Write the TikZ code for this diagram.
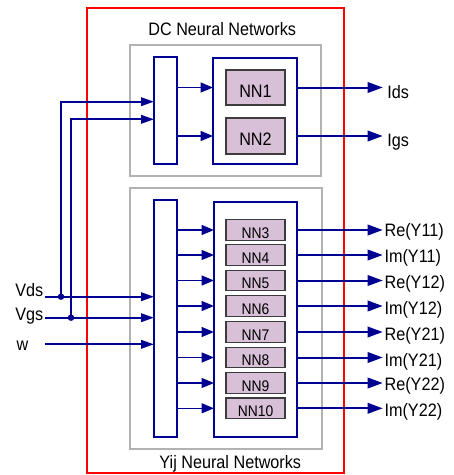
\documentclass[tikz,border=0pt]{standalone}
\usepackage{fontspec}
\setmainfont[FakeStretch=0.9]{Liberation Sans}
\usetikzlibrary{arrows.meta,calc}
\definecolor{nnblue}{RGB}{0,0,145}
\definecolor{boxgray}{RGB}{178,178,178}
\definecolor{nnfill}{RGB}{216,192,216}
\definecolor{nnedge}{RGB}{60,60,60}
\newcommand{\bigtxt}{\fontsize{18}{20}\selectfont}
\newcommand{\smalltxt}{\fontsize{15.4}{17}\selectfont}
\begin{document}
\begin{tikzpicture}[x=1pt,y=-1pt,
  boxbase/.style={draw, rectangle, inner sep=0pt, outer sep=0pt},
  redbox/.style={boxbase, draw=red, line width=1.3pt},
  graybox/.style={boxbase, draw=boxgray, line width=2.6pt, fill=white},
  bluebox/.style={boxbase, draw=nnblue, line width=2.8pt, fill=white},
  nnbox/.style={boxbase, draw=nnedge, line width=1.2pt, fill=nnfill, minimum width=59pt},
  bignn/.style={nnbox, font=\bigtxt, text height=19.9pt, text depth=0pt},
  smallnn/.style={nnbox, font=\smalltxt, text height=16pt, text depth=0pt, minimum height=20.5pt},
  lbl/.style={inner sep=0pt, outer sep=0pt, font=\bigtxt},
  dot/.style={circle, fill=nnblue, inner sep=0pt, minimum size=6.5pt},
  outarr/.style={draw=nnblue, line width=2pt, -{Triangle[length=15pt,width=10.5pt]}},
  inarr/.style={draw=nnblue, line width=2pt, -{Triangle[length=13pt,width=8.5pt]}},
  midarr/.style={draw=nnblue, line width=1.5pt, -{Triangle[length=12.5pt,width=10pt]}}
]
\useasboundingbox (0,0) rectangle (454,475);

% frames
\node[redbox, minimum width=257pt, minimum height=465pt] (outer) at (215.5,240.5) {};
\node[graybox, minimum width=191pt, minimum height=131pt] (dcgray) at (225.5,110.5) {};
\node[graybox, minimum width=192pt, minimum height=261pt] (yijgray) at (226,318.5) {};

% titles
\node[lbl, anchor=base] (dctitle) at (222.2,35.7) {DC Neural Networks};
\node[lbl, anchor=base] (yijtitle) at (230.3,468.3) {Yij Neural Networks};

% DC block
\node[bluebox, minimum width=23pt, minimum height=107pt] (dcbar) at (165.5,110.5) {};
\node[bluebox, minimum width=84pt, minimum height=106pt] (dccont) at (255,111) {};
\node[bignn, minimum height=35pt] (nn1) at (255.5,87.5) {NN1};
\node[bignn, minimum height=36pt] (nn2) at (255.5,136) {NN2};

% Yij block
\node[bluebox, minimum width=23pt, minimum height=237pt] (yijbar) at (165.5,318.5) {};
\node[bluebox, minimum width=83pt, minimum height=235pt] (yijcont) at (255.5,319.5) {};

% DC outputs
\node[lbl, anchor=base west] (ids) at (387.3,98.2) {Ids};
\node[lbl, anchor=base west] (igs) at (387.3,146.4) {Igs};
\draw[midarr] (dcbar.east |- nn1) -- (dccont.west |- nn1);
\draw[midarr] (dcbar.east |- nn2) -- (dccont.west |- nn2);
\draw[outarr, shorten >=4.6pt] (nn1 -| dccont.east) -- (nn1 -| ids.west);
\draw[outarr, shorten >=4.6pt] (nn2 -| dccont.east) -- (nn2 -| igs.west);

% Yij networks and outputs
\foreach \i/\yc/\t/\b in {3/230/Re(Y11)/236.5, 4/255/Im(Y11)/262.5, 5/280.5/Re(Y12)/288,
                          6/306/Im(Y12)/314, 7/332/Re(Y21)/340.5, 8/357.5/Im(Y21)/366.5,
                          9/383/Re(Y22)/390, 10/408.3/Im(Y22)/416.5}{
  \node[smallnn] (nn\i) at (255.5,\yc) {NN\i};
  \node[lbl, anchor=base west] (out\i) at (384.6,\b) {\t};
  \draw[midarr] (yijbar.east |- nn\i) -- (yijcont.west |- nn\i);
  \draw[outarr, shorten >=1.9pt] (nn\i -| yijcont.east) -- (nn\i -| out\i.west);
}

% inputs
\node[lbl, anchor=base east] (vds) at (43.2,296.7) {Vds};
\node[lbl, anchor=base east] (vgs) at (43.2,320.3) {Vgs};
\node[lbl, anchor=base west] (w) at (16.6,350.7) {w};
\coordinate (vdsin) at (45,296.7);
\coordinate (vgsin) at (45,317.7);
\coordinate (win) at (45,344.3);
\draw[inarr] (vdsin) -- (vdsin -| yijbar.west);
\draw[inarr] (vgsin) -- (vgsin -| yijbar.west);
\draw[inarr] (win) -- (win -| yijbar.west);
\node[dot] (j1) at (61,296.7) {};
\node[dot] (j2) at (71,317.7) {};
\draw[inarr] (j1.center) |- ([yshift=8.8pt]dcbar.west);
\draw[inarr] (j2.center) |- ([yshift=-8.8pt]dcbar.west);
\end{tikzpicture}
\end{document}
